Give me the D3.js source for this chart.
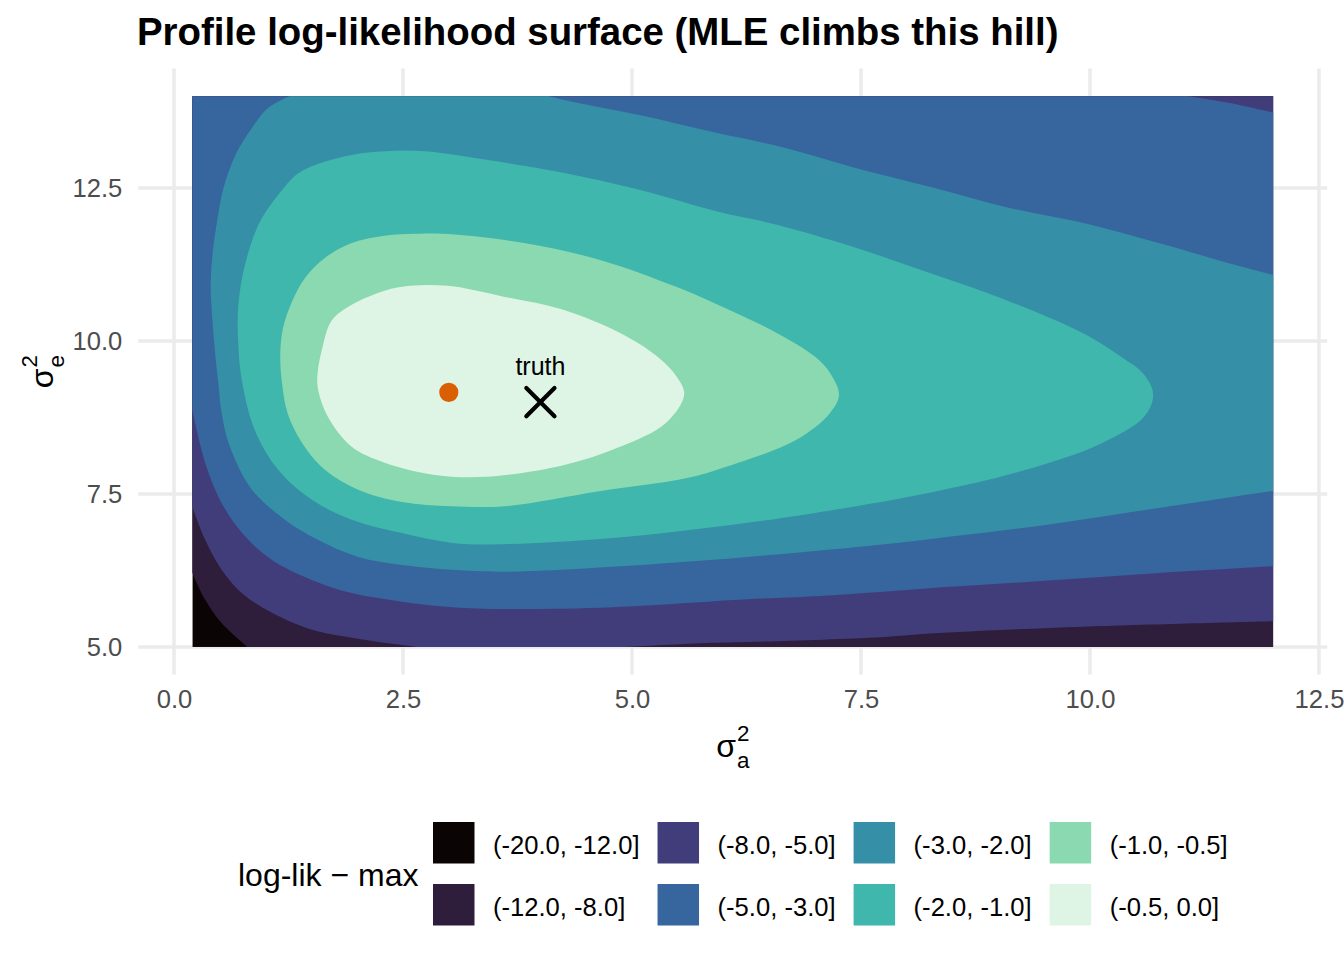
<!DOCTYPE html>
<html>
<head>
<meta charset="utf-8">
<script src="https://cdn.jsdelivr.net/npm/d3@7"></script>
<style>
  body { margin: 0; background: #fff; }
  text { font-family: "Liberation Sans", Arial, sans-serif; }
</style>
</head>
<body>
<div id="chart"></div>
<script>
// Grid extent of the likelihood evaluation
const gridX = [0.2, 12];
const gridY = [5, 14];

const xTicks = [0, 2.5, 5, 7.5, 10, 12.5];
const yTicks = [5, 7.5, 10, 12.5];

const levelLabels = ["(-20.0, -12.0]", "(-12.0, -8.0]", "(-8.0, -5.0]", "(-5.0, -3.0]",
                     "(-3.0, -2.0]", "(-2.0, -1.0]", "(-1.0, -0.5]", "(-0.5, 0.0]"];
const levelColors = ["#0B0405", "#2E1E3C", "#413D7B", "#37659E",
                     "#348FA7", "#40B7AD", "#8AD9B1", "#DEF5E5"];

// Contour lines (sigma_a^2, sigma_e^2)
const c12 = [[0.2, 6.21], [0.34, 5.77], [0.52, 5.39], [0.8, 5.0]];
const c8 = [[0.2, 7.29], [0.34, 6.75], [0.52, 6.26], [0.74, 5.88], [1.07, 5.56], [1.51, 5.28],
            [1.94, 5.15], [2.49, 5.03], [2.8, 4.98], [3.7, 4.97], [4.6, 4.98], [5.2, 5.02],
            [5.74, 5.06], [6.26, 5.08], [7.71, 5.16], [8.25, 5.22], [9.92, 5.33], [12.0, 5.42]];
const c5 = [[0.2, 8.87], [0.34, 8.01], [0.52, 7.35], [0.78, 6.80], [1.07, 6.42], [1.51, 6.09],
            [1.94, 5.88], [2.49, 5.74], [3.04, 5.65], [3.61, 5.62], [4.79, 5.65], [6.26, 5.78],
            [7.0, 5.83], [7.71, 5.90], [8.25, 5.96], [9.5, 6.08], [10.75, 6.21], [12.0, 6.32]];
const c5corner = [[12.0, 13.73], [11.51, 13.89], [10.9, 14.04]];
const c3lower = [[1.32, 14.04], [1.03, 13.81], [0.85, 13.48], [0.67, 13.04], [0.54, 12.50],
                 [0.47, 11.96], [0.42, 11.41], [0.40, 10.87], [0.42, 10.33], [0.45, 9.77],
                 [0.48, 9.36], [0.52, 8.82], [0.61, 8.27], [0.85, 7.57], [1.21, 7.08],
                 [1.57, 6.75], [2.01, 6.47], [2.49, 6.34], [3.04, 6.26], [3.61, 6.23],
                 [4.79, 6.31], [6.26, 6.47], [7.71, 6.67], [8.25, 6.76], [9.5, 6.99],
                 [10.75, 7.27], [12.0, 7.55]];
const c3upper = [[12.0, 11.08], [11.59, 11.24], [10.75, 11.60], [9.92, 11.93], [9.08, 12.19],
                 [8.25, 12.52], [7.41, 12.84], [6.6, 13.18], [5.92, 13.40], [5.08, 13.69],
                 [4.25, 13.94], [4.0, 14.04]];
const c2 = [[0.70, 10.0], [0.70, 10.54], [0.75, 11.08], [0.85, 11.63], [0.96, 12.01],
            [1.14, 12.39], [1.35, 12.73], [1.57, 12.89], [1.94, 13.04], [2.30, 13.10],
            [2.74, 13.10], [3.41, 12.96], [4.25, 12.75], [5.08, 12.47], [5.92, 12.12],
            [6.58, 11.90], [7.41, 11.54], [8.25, 11.11], [9.08, 10.67], [9.92, 10.13],
            [10.34, 9.74], [10.59, 9.45], [10.69, 9.12], [10.59, 8.76], [10.13, 8.33],
            [9.29, 7.89], [8.25, 7.52], [7.0, 7.19], [6.51, 7.08], [5.74, 6.93],
            [4.79, 6.78], [3.61, 6.68], [3.04, 6.70], [2.49, 6.86], [1.94, 7.08],
            [1.51, 7.40], [1.14, 7.89], [0.88, 8.55], [0.74, 9.36]];
const c1 = [[1.16, 9.77], [1.19, 10.21], [1.29, 10.65], [1.43, 11.03], [1.65, 11.36],
            [1.94, 11.60], [2.30, 11.72], [2.65, 11.75], [2.95, 11.75], [3.82, 11.60],
            [4.66, 11.32], [5.49, 10.88], [6.10, 10.48], [6.58, 10.13], [7.0, 9.74],
            [7.16, 9.48], [7.26, 9.12], [7.16, 8.82], [6.79, 8.38], [6.16, 8.01],
            [5.60, 7.76], [4.66, 7.55], [3.61, 7.30], [3.03, 7.30],
            [2.49, 7.37], [2.01, 7.57], [1.65, 7.89], [1.40, 8.33], [1.24, 8.82], [1.18, 9.30]];
const c05 = [[1.57, 9.51], [1.62, 9.89], [1.72, 10.33], [1.94, 10.59], [2.30, 10.82],
             [2.58, 10.90], [2.99, 10.90], [3.61, 10.72], [4.25, 10.51], [4.87, 10.13],
             [5.28, 9.74], [5.49, 9.41], [5.57, 9.12], [5.37, 8.66], [4.87, 8.27],
             [4.25, 7.97], [3.40, 7.78], [2.85, 7.81], [2.30, 8.01], [1.94, 8.27],
             [1.68, 8.76], [1.57, 9.23]];

const mle = [3.0, 9.16];
const truth = [4.0, 9.0];
const truthLabelY = 9.45;

// ---- layout
const W = 1344, H = 960;
const svg = d3.select("#chart").append("svg").attr("width", W).attr("height", H);

const padX = (gridX[1] - gridX[0]) * 0.05, padY = (gridY[1] - gridY[0]) * 0.05;
const x = d3.scaleLinear().domain([gridX[0] - padX, gridX[1] + padX]).range([138.3, 1327.2]);
const y = d3.scaleLinear().domain([gridY[0] - padY, gridY[1] + padY]).range([674.5, 68.6]);

// grid lines
const grid = svg.append("g");
grid.selectAll(".gx").data(xTicks).enter().append("line")
    .attr("x1", d => x(d)).attr("x2", d => x(d))
    .attr("y1", y.range()[0]).attr("y2", y.range()[1])
    .attr("stroke", "#EBEBEB").attr("stroke-width", 3.5);
grid.selectAll(".gy").data(yTicks).enter().append("line")
    .attr("y1", d => y(d)).attr("y2", d => y(d))
    .attr("x1", x.range()[0]).attr("x2", x.range()[1])
    .attr("stroke", "#EBEBEB").attr("stroke-width", 3.5);

// clip to the evaluated grid
svg.append("clipPath").attr("id", "gridclip").append("rect")
    .attr("x", x(gridX[0])).attr("y", y(gridY[1]))
    .attr("width", x(gridX[1]) - x(gridX[0])).attr("height", y(gridY[0]) - y(gridY[1]));

const smooth = d3.line().x(d => x(d[0])).y(d => y(d[1])).curve(d3.curveCatmullRom);
const straight = d3.line().x(d => x(d[0])).y(d => y(d[1]));
const closedCurve = d3.line().x(d => x(d[0])).y(d => y(d[1])).curve(d3.curveCatmullRomClosed);

function joinParts(parts) {
    return parts.map((p, i) => i ? p.replace(/^M/, "L") : p).join("") + "Z";
}

// outside corners used to close the open contour regions
const L0 = gridX[0] - 0.7, R0 = gridX[1] + 0.7, B0 = gridY[0] - 0.7, T0 = gridY[1] + 0.7;
const last = a => a[a.length - 1];

const regions = [
    // >= -12
    joinParts([smooth(c12),
        straight([[last(c12)[0], B0], [R0, B0], [R0, T0], [L0, T0], [L0, c12[0][1]]])]),
    // >= -8
    joinParts([smooth(c8),
        straight([[R0, last(c8)[1]], [R0, T0], [L0, T0], [L0, c8[0][1]]])]),
    // >= -5
    joinParts([smooth(c5),
        straight([[R0, last(c5)[1]], [R0, c5corner[0][1]]]),
        smooth(c5corner),
        straight([[last(c5corner)[0], T0], [L0, T0], [L0, c5[0][1]]])]),
    // >= -3
    joinParts([smooth(c3lower),
        straight([[R0, last(c3lower)[1]], [R0, c3upper[0][1]]]),
        smooth(c3upper),
        straight([[last(c3upper)[0], T0], [c3lower[0][0], T0]])]),
    closedCurve(c2),
    closedCurve(c1),
    closedCurve(c05)
];

const surf = svg.append("g").attr("clip-path", "url(#gridclip)");
surf.append("rect")
    .attr("x", x(gridX[0])).attr("y", y(gridY[1]))
    .attr("width", x(gridX[1]) - x(gridX[0])).attr("height", y(gridY[0]) - y(gridY[1]))
    .attr("fill", levelColors[0]);
surf.selectAll("path.level").data(regions).enter().append("path")
    .attr("class", "level")
    .attr("d", d => d)
    .attr("fill", (d, i) => levelColors[i + 1]);

// MLE point and truth
svg.append("path")
    .attr("transform", `translate(${x(mle[0])},${y(mle[1])})`)
    .attr("d", d3.symbol(d3.symbolCircle, 290)())
    .attr("fill", "#D95F02");
svg.append("path")
    .attr("transform", `translate(${x(truth[0])},${y(truth[1])})`)
    .attr("d", d3.symbol(d3.symbolX, 520)())
    .attr("fill", "none").attr("stroke", "#000").attr("stroke-width", 4.2)
    .attr("stroke-linecap", "round");
svg.append("text")
    .attr("x", x(truth[0])).attr("y", y(truthLabelY))
    .attr("text-anchor", "middle").attr("font-size", 25).attr("fill", "#000")
    .text("truth");

// axes
const xAxis = svg.append("g").attr("transform", `translate(0,${y.range()[0]})`)
    .call(d3.axisBottom(x).tickValues(xTicks).tickFormat(d3.format(".1f")).tickSize(0).tickPadding(15.5));
const yAxis = svg.append("g").attr("transform", `translate(${x.range()[0]},0)`)
    .call(d3.axisLeft(y).tickValues(yTicks).tickFormat(d3.format(".1f")).tickSize(0).tickPadding(16));
[xAxis, yAxis].forEach(a => {
    a.select(".domain").remove();
    a.selectAll("text").attr("font-size", 25.6).attr("fill", "#4D4D4D")
        .attr("font-family", "Liberation Sans, Arial, sans-serif");
});

// axis titles: sigma with stacked super/subscript
function sigmaTitle(g, sub) {
    const s = g.append("text").attr("font-size", 32).attr("fill", "#000").text("σ");
    const w = s.node().getComputedTextLength();
    g.append("text").attr("x", w + 1).attr("y", -16).attr("font-size", 22.4).text("2");
    const b = g.append("text").attr("x", w + 1).attr("y", 11).attr("font-size", 22.4).text(sub);
    return w + 1 + Math.max(b.node().getComputedTextLength(), 12.5);
}
const panelMidX = (x.range()[0] + x.range()[1]) / 2;
const panelMidY = (y.range()[0] + y.range()[1]) / 2;
const xt = svg.append("g");
const xtw = sigmaTitle(xt, "a");
xt.attr("transform", `translate(${panelMidX - xtw / 2},757)`);
const yt = svg.append("g");
const ytw = sigmaTitle(yt, "e");
yt.attr("transform", `translate(53,${panelMidY + ytw / 2}) rotate(-90)`);

// title
svg.append("text").attr("x", 137).attr("y", 45)
    .attr("font-size", 38.4).attr("font-weight", "bold").attr("fill", "#000")
    .text("Profile log-likelihood surface (MLE climbs this hill)");

// legend (2 rows, filled by column)
const leg = svg.append("g").attr("transform", "translate(238,0)");
const legTitle = leg.append("text").attr("y", 886).attr("font-size", 32).attr("fill", "#000")
    .text("log-lik \u2212 max");
const keySize = 41.5, rowY = [822, 884], textGap = 60, colGap = 18;
const nCols = Math.ceil(levelLabels.length / 2);
let cursor = 195;
for (let c = 0; c < nCols; c++) {
    let maxW = 0;
    for (let r = 0; r < 2; r++) {
        const i = c * 2 + r;
        const t = leg.append("text").attr("x", cursor + textGap).attr("y", rowY[r] + 32)
            .attr("font-size", 25.6).attr("fill", "#000").text(levelLabels[i]);
        leg.append("rect").attr("x", cursor).attr("y", rowY[r])
            .attr("width", keySize).attr("height", keySize).attr("fill", levelColors[i]);
        maxW = Math.max(maxW, t.node().getComputedTextLength());
    }
    cursor += textGap + maxW + colGap;
}
</script>
</body>
</html>
